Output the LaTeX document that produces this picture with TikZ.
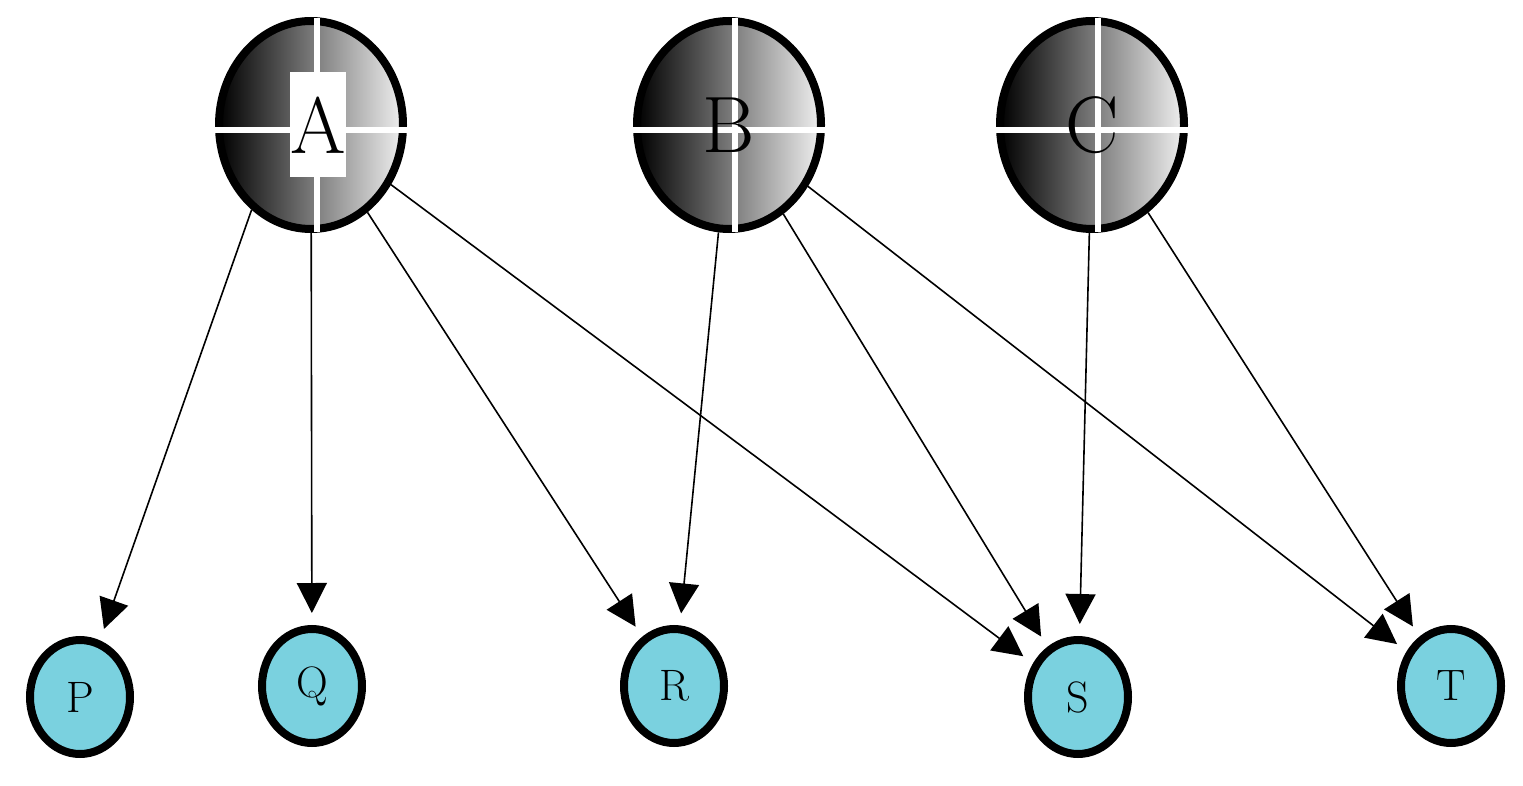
\documentclass[tikz,border=0pt]{standalone}
\usetikzlibrary{shapes.geometric,arrows.meta}
\definecolor{leaf}{HTML}{7AD1DF}
\tikzset{
  top/.style={ellipse,draw=black,line width=8pt,minimum width=184pt,minimum height=208pt,inner sep=0pt,shading=axis,left color=black,right color=gray!12,shading angle=90},
  leafnode/.style={ellipse,draw=black,line width=8pt,fill=leaf,minimum width=100pt,minimum height=114pt,inner sep=0pt,font=\fontsize{44}{44}\selectfont},
  edge/.style={line width=1.6pt,-{Triangle[length=30pt,width=30pt]},shorten >=12pt},
  crossline/.style={white,line width=6pt}
}
\begin{document}
\begin{tikzpicture}[x=1pt,y=-1pt]
\useasboundingbox (0,0) rectangle (1523,786);
\foreach \n/\x in {A/311,B/729,C/1092}{
  \node[top] (\n) at (\x,125) {};
  \draw[crossline] (\x-96,130) -- (\x+96,130);
  \draw[crossline] (\x+6,18) -- (\x+6,232);
}
\node[fill=white,minimum width=55pt,minimum height=105pt,inner sep=0pt,font=\fontsize{80}{80}\selectfont] (la) at (318,125) {A};
\node[font=\fontsize{80}{80}\selectfont] (lb) at (729,125) {B};
\node[font=\fontsize{80}{80}\selectfont] (lc) at (1092,125) {C};
\node[leafnode] (P) at (80,697) {P};
\node[leafnode] (Q) at (312,686) {Q};
\node[leafnode] (R) at (674,686) {R};
\node[leafnode] (S) at (1078,697) {S};
\node[leafnode] (T) at (1451,686) {T};
\draw[edge] (A.235) -- (P);
\draw[edge] (A) -- (Q);
\draw[edge] (A) -- (R);
\draw[edge] (A) -- (S);
\draw[edge] (B) -- (R);
\draw[edge] (B) -- (S);
\draw[edge] (B) -- (T);
\draw[edge] (C) -- (S);
\draw[edge] (C) -- (T);
\end{tikzpicture}
\end{document}
